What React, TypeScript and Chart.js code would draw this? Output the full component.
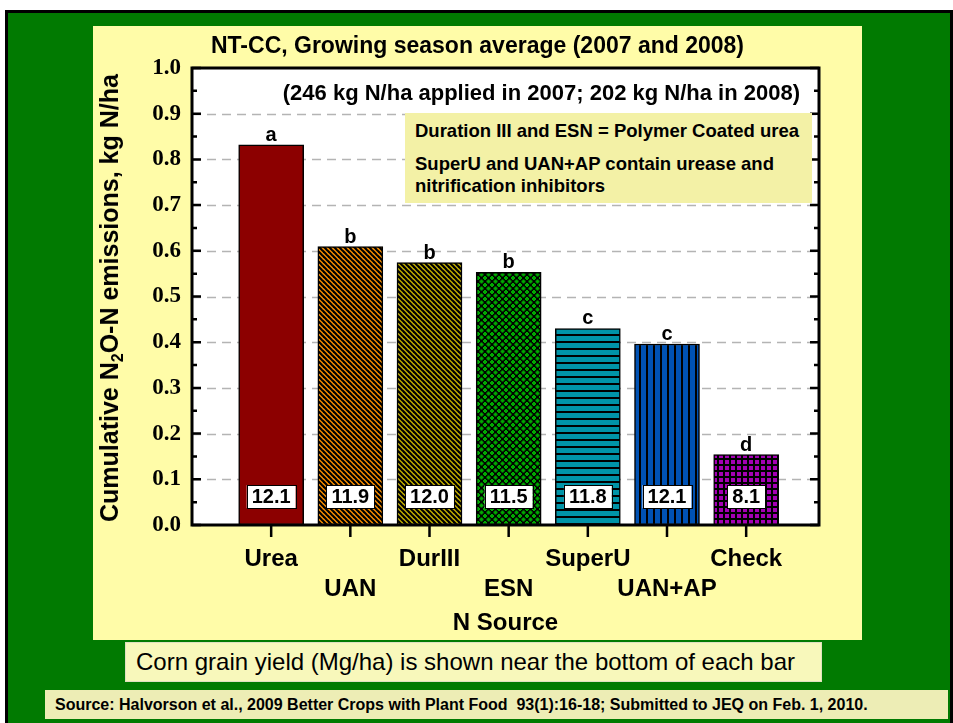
import React, { useEffect, useRef } from "react";
import { Chart, registerables } from "chart.js";

Chart.register(...registerables);

const categories = ["Urea", "UAN", "DurIII", "ESN", "SuperU", "UAN+AP", "Check"];
const emissions = [0.832, 0.609, 0.574, 0.553, 0.43, 0.396, 0.154];
const letters = ["a", "b", "b", "b", "c", "c", "d"];
const yields = [12.1, 11.9, 12.0, 11.5, 11.8, 12.1, 8.1];
const yMin = 0;
const yMax = 1.0;
const yStep = 0.1;

const SANS = "'Liberation Sans', Arial, sans-serif";
const SERIF = "'Liberation Serif', 'Times New Roman', serif";

function makePattern(ctx: CanvasRenderingContext2D, size: number, bg: string, draw: (g: CanvasRenderingContext2D, s: number) => void) {
  const c = document.createElement("canvas");
  c.width = size;
  c.height = size;
  const g = c.getContext("2d") as CanvasRenderingContext2D;
  g.fillStyle = bg;
  g.fillRect(0, 0, size, size);
  g.strokeStyle = "#000";
  g.fillStyle = "#000";
  draw(g, size);
  return ctx.createPattern(c, "repeat") as CanvasPattern;
}

function diag(g: CanvasRenderingContext2D, s: number) {
  g.lineWidth = 2.2;
  for (let k = -1; k <= 1; k++) {
    g.beginPath();
    g.moveTo(k * s - 1, -1);
    g.lineTo(k * s + s + 1, s + 1);
    g.stroke();
  }
}

export default function App() {
  const ref = useRef<HTMLCanvasElement | null>(null);

  useEffect(() => {
    const canvas = ref.current;
    if (!canvas) return;
    const ctx = canvas.getContext("2d") as CanvasRenderingContext2D;

    const fills: (string | CanvasPattern)[] = [
      "#8c0000",
      makePattern(ctx, 5, "#ff9200", diag),
      makePattern(ctx, 5, "#c8b400", diag),
      makePattern(ctx, 7, "#000", (g, s) => {
        g.fillStyle = "#00a800";
        const plus = (cx: number, cy: number) => {
          g.fillRect(cx - 2, cy - 1, 4, 2);
          g.fillRect(cx - 1, cy - 2, 2, 4);
        };
        plus(0, 0); plus(s, 0); plus(0, s); plus(s, s); plus(3.5, 3.5);
      }),
      makePattern(ctx, 7, "#0094a8", (g, s) => {
        g.fillRect(0, 0, s, 2);
      }),
      makePattern(ctx, 7, "#0052b4", (g, s) => {
        g.fillRect(0, 0, 2, s);
      }),
      makePattern(ctx, 6, "#a400b4", (g, s) => {
        g.fillRect(0, 0, s, 2);
        g.fillRect(0, 0, 2, s);
      }),
    ];

    const framePlugin = {
      id: "frame",
      beforeDatasetsDraw(chart: any) {
        const { ctx: c, chartArea: a, scales } = chart;
        const y = scales.y;
        c.save();
        c.fillStyle = "#fff";
        c.fillRect(a.left, a.top, a.right - a.left, a.bottom - a.top);
        c.strokeStyle = "#b4b4b4";
        c.lineWidth = 1.5;
        c.setLineDash([9, 6]);
        for (let v = yMin + yStep; v < yMax - 1e-6; v += yStep) {
          const py = Math.round(y.getPixelForValue(v)) + 0.5;
          c.beginPath();
          c.moveTo(a.left, py);
          c.lineTo(a.right, py);
          c.stroke();
        }
        c.restore();
      },
      afterDatasetsDraw(chart: any) {
        const { ctx: c, chartArea: a, scales } = chart;
        const y = scales.y;
        const x = scales.x;
        c.save();
        c.strokeStyle = "#000";
        c.lineWidth = 3;
        c.strokeRect(a.left, a.top, a.right - a.left, a.bottom - a.top);
        c.lineWidth = 2.5;
        for (let i = 0; i <= Math.round((yMax - yMin) / (yStep / 2)); i++) {
          const v = yMin + (i * yStep) / 2;
          const py = y.getPixelForValue(v);
          const len = i % 2 === 0 ? 9 : 5;
          c.beginPath();
          c.moveTo(a.left, py);
          c.lineTo(a.left + len, py);
          c.moveTo(a.right, py);
          c.lineTo(a.right - len, py);
          c.stroke();
        }
        categories.forEach((_, i) => {
          const px = x.getPixelForValue(i + 1);
          c.beginPath();
          c.moveTo(px, a.bottom);
          c.lineTo(px, a.bottom + 12);
          c.stroke();
        });
        const meta = chart.getDatasetMeta(0);
        meta.data.forEach((el: any, i: number) => {
          c.fillStyle = "#000";
          c.font = `bold 20px ${SANS}`;
          c.textAlign = "center";
          c.textBaseline = "alphabetic";
          c.fillText(letters[i], el.x, el.y - 4);

          const txt = yields[i].toFixed(1);
          c.font = `bold 20px ${SANS}`;
          const w = c.measureText(txt).width + 10;
          const h = 23;
          const cy = y.getPixelForValue(0.062);
          c.fillStyle = "#fff";
          c.fillRect(el.x - w / 2, cy - h / 2, w, h);
          c.lineWidth = 1;
          c.strokeStyle = "#000";
          c.strokeRect(Math.round(el.x - w / 2) + 0.5, Math.round(cy - h / 2) + 0.5, Math.round(w), h);
          c.fillStyle = "#000";
          c.textBaseline = "middle";
          c.fillText(txt, el.x, cy + 1);
        });
        c.restore();
      },
    };

    const chart = new Chart(ctx, {
      type: "bar",
      data: {
        datasets: [
          {
            data: categories.map((_, i) => ({ x: i + 1, y: emissions[i] })),
            backgroundColor: fills as any,
            borderColor: "#000",
            borderWidth: 1.5,
            borderSkipped: false,
            barThickness: 65,
          },
        ],
      },
      options: {
        responsive: false,
        animation: false,
        events: [],
        layout: { padding: { top: 42, right: 43, bottom: 0, left: 0 } },
        plugins: { legend: { display: false }, tooltip: { enabled: false }, title: { display: false } },
        scales: {
          x: {
            type: "linear",
            min: 0,
            max: 7.92,
            offset: false,
            grid: { display: false, drawTicks: false },
            border: { display: false },
            afterBuildTicks: (s: any) => {
              s.ticks = categories.map((_, i) => ({ value: i + 1 }));
            },
            afterFit: (s: any) => {
              s.height = 115;
              s.paddingLeft = 0;
              s.paddingRight = 0;
              s.paddingTop = 0;
              s.paddingBottom = 0;
            },
            ticks: {
              autoSkip: false,
              maxRotation: 0,
              padding: 19,
              color: "#000",
              font: { family: SANS, size: 24, weight: "bold", lineHeight: 1.25 },
              callback: (v: any) => {
                const i = Math.round(Number(v)) - 1;
                const name = categories[i];
                if (name === undefined) return "";
                return i % 2 === 0 ? [name] : ["", name];
              },
            },
            title: {
              display: true,
              text: "N Source",
              color: "#000",
              font: { family: SANS, size: 24, weight: "bold" },
              padding: { top: 0, bottom: 2 },
            },
          },
          y: {
            min: yMin,
            max: yMax,
            grid: { display: false, drawTicks: false },
            border: { display: false },
            afterFit: (s: any) => {
              s.width = 99;
              s.paddingLeft = 0;
              s.paddingRight = 0;
              s.paddingTop = 0;
              s.paddingBottom = 0;
            },
            ticks: {
              stepSize: yStep,
              padding: 11,
              color: "#000",
              font: { family: SERIF, size: 23, weight: "bold" },
              callback: (v: any) => Number(v).toFixed(1),
            },
          },
        },
      },
      plugins: [framePlugin],
    } as any);

    return () => chart.destroy();
  }, []);

  return (
    <div style={{ position: "absolute", left: 0, top: 0, width: 953, height: 723, overflow: "hidden", background: "#fff" }}>
      <div style={{ position: "absolute", left: 5, top: 10, width: 948, height: 720, boxSizing: "border-box", border: "3px solid #000", background: "#017a01" }} />
      <div style={{ position: "absolute", left: 93, top: 26, width: 769, height: 614, background: "#fffca8" }}>
        <canvas ref={ref} width={769} height={614} style={{ display: "block", width: 769, height: 614 }} />
        <div style={{ position: "absolute", left: 0, top: 6, width: 769, textAlign: "center", font: `bold 23px ${SANS}`, lineHeight: "26px", color: "#000", whiteSpace: "nowrap" }}>
          NT-CC, Growing season average (2007 and 2008)
        </div>
        <div style={{ position: "absolute", left: 0, top: 54, width: 707, textAlign: "right", font: `bold 22px ${SANS}`, lineHeight: "25px", color: "#000", whiteSpace: "nowrap" }}>
          (246 kg N/ha applied in 2007; 202 kg N/ha in 2008)
        </div>
        <div style={{ position: "absolute", left: 312, top: 87, width: 407, height: 90, background: "#f3f1a6", boxSizing: "border-box", padding: "7px 0 0 10px", font: `bold 18.5px ${SANS}`, color: "#000", whiteSpace: "nowrap" }}>
          <div style={{ lineHeight: "22px" }}>Duration III and ESN = Polymer Coated urea</div>
          <div style={{ lineHeight: "22px", marginTop: 11 }}>SuperU and UAN+AP contain urease and</div>
          <div style={{ lineHeight: "22px" }}>nitrification inhibitors</div>
        </div>
        <div style={{ position: "absolute", left: 18, top: 272, transform: "translate(-50%, -50%) rotate(-90deg)", whiteSpace: "nowrap", font: `bold 25px ${SANS}`, color: "#000" }}>
          Cumulative N<sub style={{ fontSize: 16, verticalAlign: "-5px" }}>2</sub>O-N emissions, kg N/ha
        </div>
      </div>
      <div style={{ position: "absolute", left: 125, top: 642, width: 697, height: 40, boxSizing: "border-box", background: "#f8f8bb", border: "1px solid #e0e0c0", padding: "0 0 0 10px", font: `24px ${SANS}`, lineHeight: "38px", color: "#000", whiteSpace: "nowrap" }}>
        Corn grain yield (Mg/ha) is shown near the bottom of each bar
      </div>
      <div style={{ position: "absolute", left: 45, top: 690, width: 903, height: 29, boxSizing: "border-box", background: "#ededb5", padding: "0 0 0 10px", font: `bold 16px ${SANS}`, lineHeight: "29px", color: "#000", whiteSpace: "nowrap" }}>
        Source: Halvorson et al., 2009 Better Crops with Plant Food&nbsp; 93(1):16-18; Submitted to JEQ on Feb. 1, 2010.
      </div>
    </div>
  );
}
